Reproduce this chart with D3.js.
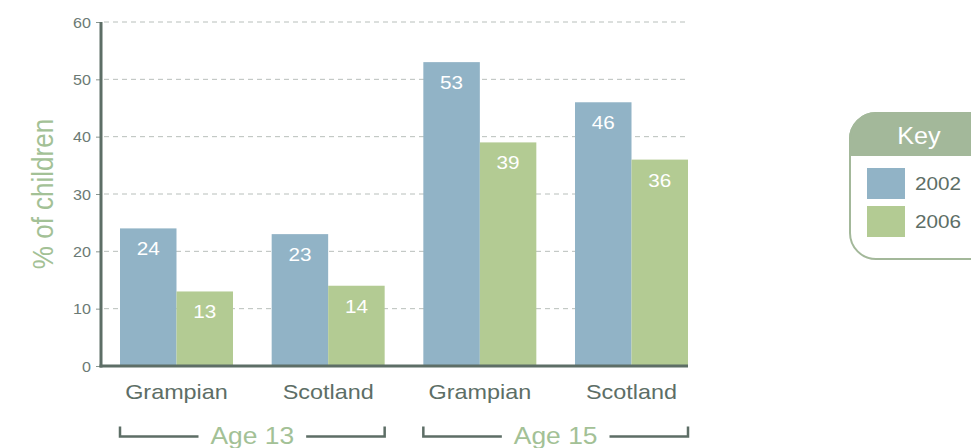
<!DOCTYPE html>
<html>
<head>
<meta charset="utf-8">
<script src="https://cdn.jsdelivr.net/npm/d3@7"></script>
<style>
  body { margin: 0; background: #fff; }
  svg { font-family: "Liberation Sans", Arial, Helvetica, sans-serif; display: block; }
</style>
</head>
<body>
<div id="chart"></div>
<script>
// Data
const regions = ["Grampian", "Scotland", "Grampian", "Scotland"];
const groupIds = ["g13", "s13", "g15", "s15"];
const ageGroups = ["Age 13", "Age 15"];
const years = ["2002", "2006"];
const values2002 = [24, 23, 53, 46];
const values2006 = [13, 14, 39, 36];
const yTicks = [0, 10, 20, 30, 40, 50, 60];

const width = 971;
const height = 448;

const colors = { "2002": "#91b3c6", "2006": "#b3cb93" };
const axisColor = "#5d6e66";
const lightGreen = "#a3c196";
const stretch = 1.15; // the source type is a little wider than Liberation Sans

const svg = d3.select("#chart")
  .append("svg")
  .attr("width", width)
  .attr("height", height);

// place a text at (x, y) with a horizontal stretch
function wideText(sel, x, y, sx) {
  return sel.attr("transform", `translate(${x},${y}) scale(${sx},1)`);
}

// Scales
const x = d3.scaleBand()
  .domain(groupIds)
  .range([120, 688])
  .paddingInner(0.255)
  .paddingOuter(0);

const xSub = d3.scaleBand()
  .domain(years)
  .range([0, x.bandwidth()]);

const y = d3.scaleLinear()
  .domain([0, 60])
  .range([366, 22]);

const axisLeft = 101;
const axisRight = 688;

// Gridlines (dashed)
svg.append("g")
  .selectAll("line")
  .data(yTicks.filter(d => d > 0))
  .enter()
  .append("line")
  .attr("x1", axisLeft + 3)
  .attr("x2", axisRight)
  .attr("y1", d => y(d))
  .attr("y2", d => y(d))
  .attr("stroke", "#b8bfbb")
  .attr("stroke-width", 1)
  .attr("stroke-dasharray", "5,4");

// Y axis ticks and labels
const yAxis = d3.axisLeft(y)
  .tickValues(yTicks)
  .tickSize(5)
  .tickPadding(5);

const yG = svg.append("g")
  .attr("transform", `translate(${axisLeft},0)`)
  .call(yAxis);
yG.select(".domain").remove();
yG.selectAll(".tick line").attr("stroke", "#8a9690").attr("stroke-width", 1);
yG.selectAll(".tick text")
  .attr("x", null)
  .attr("dy", null)
  .attr("transform", `translate(-10,5) scale(${stretch},1)`)
  .style("font-size", "14px")
  .style("fill", "#6b7a74")
  .style("font-family", "\"Liberation Sans\", Arial, sans-serif");

// Bars
const rows = groupIds.map((id, i) => ({
  id: id,
  vals: [
    { year: "2002", value: values2002[i] },
    { year: "2006", value: values2006[i] }
  ]
}));

const groups = svg.append("g")
  .selectAll("g")
  .data(rows)
  .enter()
  .append("g")
  .attr("transform", d => `translate(${x(d.id)},0)`);

groups.selectAll("rect")
  .data(d => d.vals)
  .enter()
  .append("rect")
  .attr("x", d => xSub(d.year))
  .attr("y", d => y(d.value))
  .attr("width", xSub.bandwidth())
  .attr("height", d => y(0) - y(d.value))
  .attr("fill", d => colors[d.year]);

groups.selectAll("text")
  .data(d => d.vals)
  .enter()
  .append("text")
  .attr("transform", d => `translate(${xSub(d.year) + xSub.bandwidth() / 2},${y(d.value) + 27}) scale(${stretch},1)`)
  .attr("text-anchor", "middle")
  .style("font-size", "18px")
  .style("fill", "#ffffff")
  .text(d => d.value);

// Axis lines
svg.append("line")
  .attr("x1", axisLeft)
  .attr("x2", axisLeft)
  .attr("y1", y(60))
  .attr("y2", y(0) + 1.5)
  .attr("stroke", axisColor)
  .attr("stroke-width", 3);

svg.append("line")
  .attr("x1", axisLeft - 1.5)
  .attr("x2", axisRight)
  .attr("y1", y(0))
  .attr("y2", y(0))
  .attr("stroke", axisColor)
  .attr("stroke-width", 3);

// Category labels
svg.append("g")
  .selectAll("text")
  .data(groupIds)
  .enter()
  .append("text")
  .attr("transform", d => `translate(${x(d) + x.bandwidth() / 2},399) scale(1.17,1)`)
  .attr("text-anchor", "middle")
  .style("font-size", "20px")
  .style("fill", axisColor)
  .text((d, i) => regions[i]);

// Age brackets
const brackets = ageGroups.map((label, i) => ({
  label: label,
  x0: x(groupIds[i * 2]),
  x1: x(groupIds[i * 2 + 1]) + x.bandwidth()
}));

const bY = 436.5;
brackets.forEach(b => {
  const g = svg.append("g");
  const mid = (b.x0 + b.x1) / 2;
  const sx = 1.1;
  const t = g.append("text")
    .attr("transform", `translate(${mid},444) scale(${sx},1)`)
    .attr("text-anchor", "middle")
    .style("font-size", "24px")
    .style("fill", lightGreen)
    .text(b.label);
  const tw = t.node().getComputedTextLength() * sx;
  const gap = 12;
  const path = d3.path();
  path.moveTo(b.x0, bY - 10);
  path.lineTo(b.x0, bY);
  path.lineTo(mid - tw / 2 - gap, bY);
  path.moveTo(mid + tw / 2 + gap, bY);
  path.lineTo(b.x1, bY);
  path.lineTo(b.x1, bY - 10);
  g.append("path")
    .attr("d", path.toString())
    .attr("fill", "none")
    .attr("stroke", axisColor)
    .attr("stroke-width", 2.5);
});

// Y axis title
svg.append("text")
  .attr("transform", `translate(53,${y(30)}) rotate(-90) scale(1,1.1)`)
  .attr("text-anchor", "middle")
  .style("font-size", "26px")
  .style("fill", lightGreen)
  .text("% of children");

// Legend
const legend = svg.append("g").attr("transform", "translate(850,113)");
const lw = 150, lh = 146, r = 26, headH = 42;
const legendColor = "#a3b89a";

legend.append("rect")
  .attr("x", 0)
  .attr("y", 0)
  .attr("width", lw)
  .attr("height", lh)
  .attr("rx", r)
  .attr("fill", "#ffffff")
  .attr("stroke", legendColor)
  .attr("stroke-width", 2);

// header: rounded top, flat bottom
const hp = d3.path();
hp.moveTo(0, headH);
hp.lineTo(0, r);
hp.arcTo(0, 0, r, 0, r);
hp.lineTo(lw - r, 0);
hp.arcTo(lw, 0, lw, r, r);
hp.lineTo(lw, headH);
hp.closePath();
legend.append("path")
  .attr("d", hp.toString())
  .attr("fill", legendColor)
  .attr("stroke", legendColor)
  .attr("stroke-width", 2);

wideText(legend.append("text"), 69, 31, 1.05)
  .attr("text-anchor", "middle")
  .style("font-size", "24px")
  .style("fill", "#ffffff")
  .text("Key");

const items = legend.selectAll(".item")
  .data(years)
  .enter()
  .append("g")
  .attr("class", "item")
  .attr("transform", (d, i) => `translate(17,${55 + i * 38})`);

items.append("rect")
  .attr("width", 38)
  .attr("height", 31)
  .attr("fill", d => colors[d]);

items.append("text")
  .attr("transform", `translate(48,22) scale(${stretch},1)`)
  .style("font-size", "18px")
  .style("fill", axisColor)
  .text(d => d);
</script>
</body>
</html>
